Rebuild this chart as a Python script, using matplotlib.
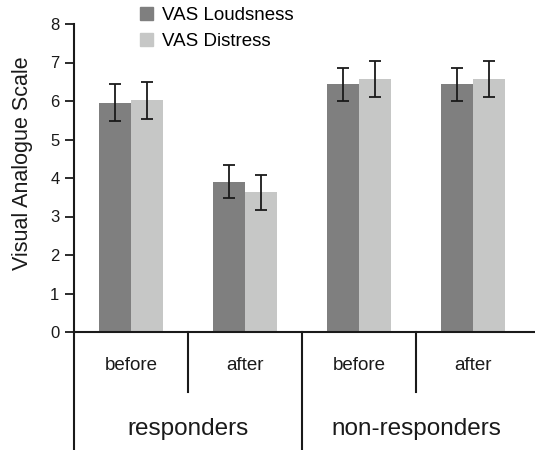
import numpy as np
import matplotlib
matplotlib.use("Agg")
import matplotlib.pyplot as plt
from matplotlib.patches import Patch

plt.rcParams["font.family"] = ["Liberation Sans", "DejaVu Sans"]

# data
conditions = ["before", "after", "before", "after"]
groups = ["responders", "non-responders"]
loudness = [5.96, 3.90, 6.44, 6.44]
loudness_err = [0.48, 0.43, 0.43, 0.43]
distress = [6.02, 3.63, 6.58, 6.58]
distress_err = [0.48, 0.45, 0.47, 0.47]

DARK = "#7f7f7f"
LIGHT = "#c6c7c6"
INK = "#1a1a1a"

W, H = 535, 450
fig = plt.figure(figsize=(W / 100, H / 100), dpi=100)
ax = fig.add_axes([74 / W, (H - 332) / H, (W - 74) / W, 308 / H])

x = np.arange(len(conditions))
bw = 0.28
err_kw = dict(ecolor=INK, elinewidth=1.3, capsize=4.5, capthick=1.3)
ax.bar(x - bw / 2, loudness, bw, color=DARK, yerr=loudness_err, error_kw=err_kw, zorder=2)
ax.bar(x + bw / 2, distress, bw, color=LIGHT, yerr=distress_err, error_kw=err_kw, zorder=2)

ax.set_xlim(-0.5, -0.5 + (W - 74) / 114)
ax.set_ylim(0, 8)
ax.set_yticks(range(0, 9))
ax.tick_params(axis="y", direction="out", length=6.5, width=1.3, colors=INK, labelsize=12, pad=4)
ax.set_xticks([])
for side in ["top", "right"]:
    ax.spines[side].set_visible(False)
for side in ["left", "bottom"]:
    ax.spines[side].set_linewidth(1.5)
    ax.spines[side].set_color(INK)

ax.set_ylabel("Visual Analogue Scale", fontsize=15.5, color=INK)
ax.yaxis.set_label_coords(-(74 - 33) / 461, (332 - 163) / 308)

# category box lines below the axis
trans = ax.get_xaxis_transform()
short_y = -(392 - 332) / 308
long_y = -(H - 332) / 308
ax.plot([-0.5, -0.5], [0, long_y], transform=trans, color=INK, lw=1.5, clip_on=False)
ax.plot([1.5, 1.5], [0, long_y], transform=trans, color=INK, lw=1.5, clip_on=False)
for xs in [0.5, 2.5]:
    ax.plot([xs, xs], [0, short_y], transform=trans, color=INK, lw=1.5, clip_on=False)

cond_y = -(366 - 332) / 308
for xi, lab in zip(x, conditions):
    ax.text(xi, cond_y, lab, transform=trans, ha="center", va="center", fontsize=13.5, color=INK)

grp_y = -(429 - 332) / 308
for gi, lab in enumerate(groups):
    ax.text(gi * 2 + 0.5, grp_y, lab, transform=trans, ha="center", va="center", fontsize=17.5, color=INK)

handles = [Patch(color=DARK), Patch(color=LIGHT)]
fig.legend(handles, ["VAS Loudsness", "VAS Distress"], loc="upper left",
           bbox_to_anchor=(140 / W, 1 - 7 / H), frameon=False, fontsize=13.5,
           handlelength=0.7, handleheight=0.7, handletextpad=0.45,
           labelspacing=0.45, borderpad=0, borderaxespad=0)

fig.savefig("out.png", dpi=100)
